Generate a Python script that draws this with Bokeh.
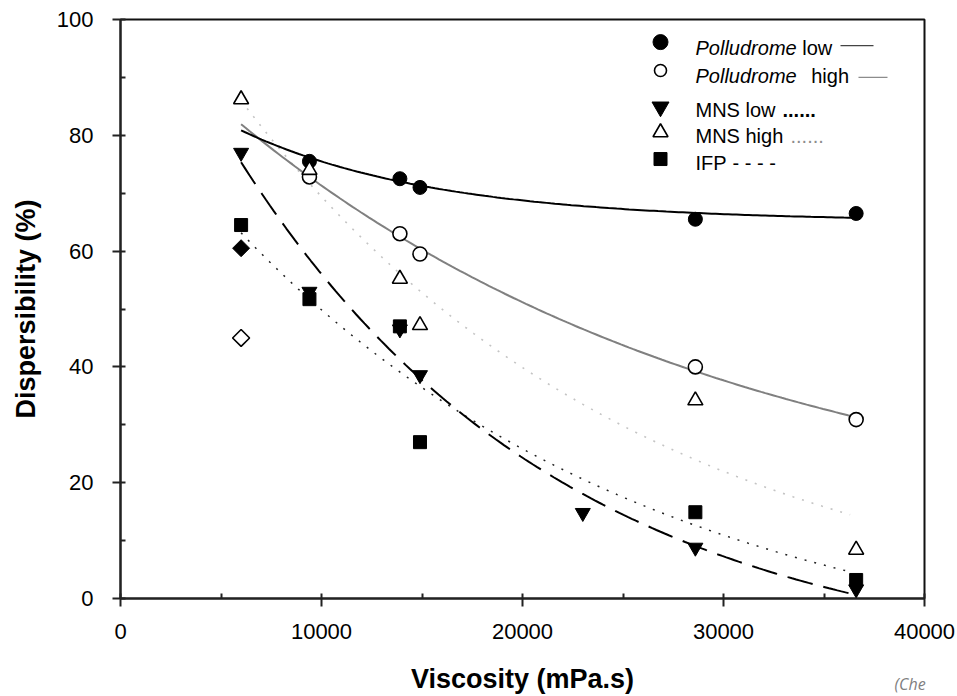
import numpy as np
from bokeh.plotting import figure
from bokeh.models import Range1d, SingleIntervalTicker, NumeralTickFormatter, Label
from bokeh.core.properties import value
from bokeh.embed import file_html
from bokeh.resources import INLINE

# ---------------- data ----------------
pl_x = [9400, 13900, 14900, 28600, 36600]
pl_low = [75.5, 72.5, 71.0, 65.5, 66.5]
pl_high = [72.8, 63.0, 59.5, 40.0, 30.9]

mns_low_x = [6000, 9400, 13900, 14900, 23000, 28600, 36600]
mns_low = [77.0, 53.0, 46.5, 38.6, 14.8, 8.8, 1.6]

mns_high_x = [6000, 9400, 13900, 14900, 28600, 36600]
mns_high = [86.2, 74.0, 55.2, 47.2, 34.2, 8.4]

ifp_x = [6000, 9400, 13900, 14900, 28600, 36600]
ifp = [64.5, 51.7, 47.0, 27.0, 14.9, 3.2]

extra_x = [6000]
diamond_filled = [60.5]
diamond_open = [45.0]

# trend-line positions
tr_pl_low_x = [6000, 9400, 13900, 14900, 28600, 36600]
tr_pl_low_y = [81.0, 75.8, 72.3, 71.3, 66.6, 65.7]
tr_pl_high_x = [6000, 9400, 13900, 14900, 28600, 36600]
tr_pl_high_y = [82.0, 73.0, 62.5, 59.8, 40.0, 30.9]
tr_dash_x = [6000, 7630, 11230, 14840, 20900, 23380, 28690, 36480]
tr_dash_y = [76.0, 66.5, 50.4, 37.8, 23.1, 17.9, 8.7, 0.4]
tr_dot_x = [6300, 8540, 10200, 13050, 16915, 20900, 25120, 28500, 36300]
tr_dot_y = [62.0, 54.7, 49.0, 41.5, 32.0, 23.7, 17.4, 13.3, 4.4]
tr_gdot_x = [6300, 10610, 15590, 20900, 27530, 36300]
tr_gdot_y = [84.6, 67.4, 50.9, 37.5, 26.3, 14.2]

x_ticks_interval = 10000
y_ticks_interval = 20

FONT = "Liberation Sans"


def trend(xs, ys, x0, x1):
    """Least-squares fit of y = y0 + a*exp(-b*x) to the read positions."""
    xs = np.asarray(xs, float)
    ys = np.asarray(ys, float)
    best = None
    for b in np.geomspace(1e-6, 1e-3, 600):
        A = np.column_stack([np.ones_like(xs), np.exp(-b * xs)])
        coef = np.linalg.lstsq(A, ys, rcond=None)[0]
        err = float(np.sum((A @ coef - ys) ** 2))
        if best is None or err < best[0]:
            best = (err, b, coef)
    _, b, coef = best
    xx = np.linspace(x0, x1, 150)
    return xx, coef[0] + coef[1] * np.exp(-b * xx)


p = figure(width=957, height=696, output_backend="svg", toolbar_location=None,
           x_range=Range1d(0, 40000), y_range=Range1d(0, 100),
           min_border_left=120, min_border_right=33, min_border_top=19,
           min_border_bottom=97)
p.grid.visible = False
p.outline_line_color = "#111111"
p.outline_line_width = 2
p.background_fill_color = "white"
p.border_fill_color = "white"

for ax in (p.xaxis[0], p.yaxis[0]):
    ax.axis_line_color = "#222222"
    ax.axis_line_width = 2
    ax.major_tick_line_color = "#222222"
    ax.major_tick_line_width = 2
    ax.minor_tick_line_color = "#222222"
    ax.minor_tick_line_width = 2
    ax.major_tick_in = 0
    ax.major_tick_out = 8
    ax.minor_tick_in = 5
    ax.minor_tick_out = 0
    ax.major_label_text_font = FONT
    ax.major_label_text_font_size = "22px"
    ax.major_label_text_color = "black"
    ax.axis_label_text_font = FONT
    ax.axis_label_text_font_size = "27px"
    ax.axis_label_text_font_style = "bold"
    ax.axis_label_text_color = "black"

p.xaxis.major_label_standoff = 17
p.yaxis.major_label_standoff = 19
p.xaxis.ticker = SingleIntervalTicker(interval=x_ticks_interval, num_minor_ticks=2)
p.yaxis.ticker = SingleIntervalTicker(interval=y_ticks_interval, num_minor_ticks=2)
p.xaxis.formatter = NumeralTickFormatter(format="0")
p.xaxis.axis_label = "Viscosity (mPa.s)"
p.yaxis.axis_label = "Dispersibility (%)"
p.xaxis.axis_label_standoff = 22
p.yaxis.axis_label_standoff = 13

# ---------------- trend lines ----------------
xx, yy = trend(tr_gdot_x, tr_gdot_y, 6300, 36300)
p.line(xx, yy, line_color="#c4c4c4", line_width=1.6, line_dash="2 8")
xx, yy = trend(tr_dot_x, tr_dot_y, 6000, 36300)
p.line(xx, yy, line_color="#222222", line_width=1.5, line_dash="2 8")
xx, yy = trend(tr_dash_x, tr_dash_y, 6000, 36480)
p.line(xx, yy, line_color="black", line_width=2, line_dash="26 11")
xx, yy = trend(tr_pl_high_x, tr_pl_high_y, 6000, 36600)
p.line(xx, yy, line_color="#808080", line_width=2)
xx, yy = trend(tr_pl_low_x, tr_pl_low_y, 6000, 36600)
p.line(xx, yy, line_color="black", line_width=2)

# ---------------- markers ----------------
p.scatter(pl_x, pl_low, marker="circle", size=14, fill_color="black", line_color="black")
p.scatter(pl_x, pl_high, marker="circle", size=14, fill_color="white", line_color="black", line_width=1.6)
p.scatter(mns_high_x, mns_high, marker="triangle", size=15, fill_color="white", line_color="black", line_width=1.6)
p.scatter(mns_low_x, mns_low, marker="inverted_triangle", size=15, fill_color="black", line_color="black")
p.scatter(ifp_x, ifp, marker="square", size=13, fill_color="black", line_color="black")
p.scatter(extra_x, diamond_filled, marker="square", angle=np.pi / 4, size=12, fill_color="black", line_color="black")
p.scatter(extra_x, diamond_open, marker="square", angle=np.pi / 4, size=12, fill_color="white", line_color="black", line_width=1.6)

# ---------------- legend (drawn as in the picture) ----------------
leg_marker_x = 26866
leg_text_x = 28607
p.scatter([leg_marker_x], [96.1], marker="circle", size=15, fill_color="black", line_color="black")
p.scatter([leg_marker_x], [91.2], marker="circle", size=12, fill_color="white", line_color="black", line_width=1.6)
p.scatter([leg_marker_x], [84.9], marker="inverted_triangle", size=17, fill_color="black", line_color="black")
p.scatter([leg_marker_x], [80.5], marker="triangle", size=15, fill_color="white", line_color="black", line_width=1.6)
p.scatter([leg_marker_x], [75.9], marker="square", size=13, fill_color="black", line_color="black")

row_y = [95.1, 90.2, 84.4, 79.8, 75.3]   # text baselines of the five rows
common = dict(text_font=value(FONT), text_font_size="20px", text_baseline="alphabetic",
              text_align="left")
p.text([leg_text_x, leg_text_x], row_y[0:2], text=["Polludrome", "Polludrome"],
       text_font_style="italic", text_color="black", **common)
p.text([33915, 34363], row_y[0:2], text=["low", "high"], text_color="black", **common)
p.segment([35821], [row_y[0] + 0.4], [37463], [row_y[0] + 0.4], line_color="#444444", line_width=1.2)
p.segment([36716], [row_y[1] - 0.2], [38159], [row_y[1] - 0.2], line_color="#8c8c8c", line_width=1.2)
p.text([leg_text_x, leg_text_x, leg_text_x], row_y[2:5],
       text=["MNS low", "MNS high", "IFP"], text_color="black", **common)
p.text([32935], [row_y[2]], text=["......"], text_font_style="bold", text_color="black", **common)
p.text([33333], [row_y[3]], text=["......"], text_color="#8c8c8c", **common)
p.text([30448], [row_y[4]], text=["- - - -"], text_color="black", **common)

# source note at the bottom-right corner (placed in a side panel so it is not clipped)
p.add_layout(Label(x=38507, y=-16.6, x_units="data", y_units="data", text="(Che",
                   text_font="Open Sans", text_font_size="16px", text_font_style="italic",
                   text_color="#7f7f7f", text_baseline="bottom"), "right")

open("out.html", "w").write(file_html(p, INLINE))
